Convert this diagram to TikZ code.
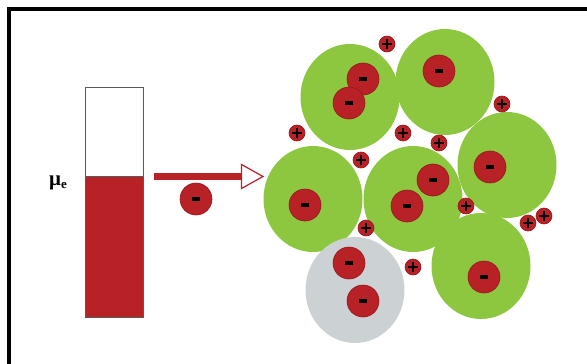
\documentclass[tikz,border=0pt]{standalone}
\usepackage{fontspec}
\newfontfamily\labelfont{Liberation Serif}
\usetikzlibrary{shapes.geometric}
\definecolor{cellgreen}{RGB}{141,198,63}
\definecolor{chargered}{RGB}{184,33,38}
\definecolor{edgered}{RGB}{150,24,30}
\definecolor{cellgrey}{RGB}{204,209,211}
\definecolor{tubegrey}{RGB}{90,90,90}
\begin{document}
\begin{tikzpicture}[x=1pt,y=-1pt,
  cell/.style={ellipse,inner sep=0pt,minimum width=99pt,minimum height=106pt,fill=cellgreen},
  emptycell/.style={cell,fill=cellgrey},
  anion/.style={circle,inner sep=0pt,minimum size=32pt,fill=chargered,draw=edgered,line width=0.6pt,
    path picture={\fill[black] ([xshift=-3.6pt,yshift=-1.7pt]path picture bounding box.center) rectangle ++(7.2pt,3.4pt);}},
  cation/.style={circle,inner sep=0pt,minimum size=16pt,fill=chargered,draw=edgered,line width=0.6pt,
    path picture={\draw[black,line width=1.7pt]
      ([xshift=-5.2pt]path picture bounding box.center) -- ([xshift=5.2pt]path picture bounding box.center)
      ([yshift=-5.2pt]path picture bounding box.center) -- ([yshift=5.2pt]path picture bounding box.center);}},
]
\useasboundingbox (0,0) rectangle (587,364);

% frame (top and left edges)
\draw[line width=4pt] (9.3,364) -- (9.3,9.3) -- (587,9.3);

% electrode with its filled level
\node (tube) [draw=tubegrey,line width=0.8pt,minimum width=58pt,minimum height=230pt,inner sep=0pt] at (114,202) {};
\node (level) [fill=chargered,draw=tubegrey,line width=0.8pt,minimum width=58pt,minimum height=141pt,inner sep=0pt,anchor=south] at (tube.south) {};
\node (mu) at (58,183) {\labelfont\bfseries\fontsize{21}{24}\selectfont μ\raisebox{-0.28ex}{\fontsize{13}{15}\selectfont e}};

% transfer arrow with the travelling electron
\coordinate (src) at (154,176.5);
\coordinate (dst) at (263,176.5);
\draw[chargered,line width=7pt] (src) -- ([xshift=-21pt]dst);
\draw[chargered,fill=white,line width=1.2pt,line join=miter]
  ([xshift=-21.5pt,yshift=12pt]dst) -- (dst) -- ([xshift=-21.5pt,yshift=-12pt]dst) -- cycle;
\node (e0) [anion] at (196,199) {};

% host cells
\node (cA) [cell] at (350,97) {};
\node (cB) [cell] at (445,82) {};
\node (cC) [cell] at (507,165) {};
\node (cD) [cell] at (313,199) {};
\node (cE) [cell] at (413,199) {};
\node (cF) [cell] at (481,266) {};
\node (cG) [emptycell] at (355,290) {};

% trapped electrons
\node (eA1) [anion] at (363,79) {};
\node (eA2) [anion] at (349,103) {};
\node (eB)  [anion] at (439,71) {};
\node (eC)  [anion] at (490,167) {};
\node (eE1) [anion] at (433,180) {};
\node (eD)  [anion] at (305,205) {};
\node (eE2) [anion] at (407,206) {};
\node (eF)  [anion] at (484,277) {};
\node (eG1) [anion] at (349,263) {};
\node (eG2) [anion] at (363,301) {};

% counter cations
\node (p1)  [cation] at (387,44) {};
\node (p2)  [cation] at (502,104) {};
\node (p3)  [cation] at (297,133) {};
\node (p4)  [cation] at (403,133) {};
\node (p5)  [cation] at (439,143) {};
\node (p6)  [cation] at (361,160) {};
\node (p7)  [cation] at (466,206) {};
\node (p8)  [cation] at (366,228) {};
\node (p9)  [cation] at (413,267) {};
\node (p10) [cation] at (528,223) {};
\node (p11) [cation] at (544,216) {};
\end{tikzpicture}
\end{document}
